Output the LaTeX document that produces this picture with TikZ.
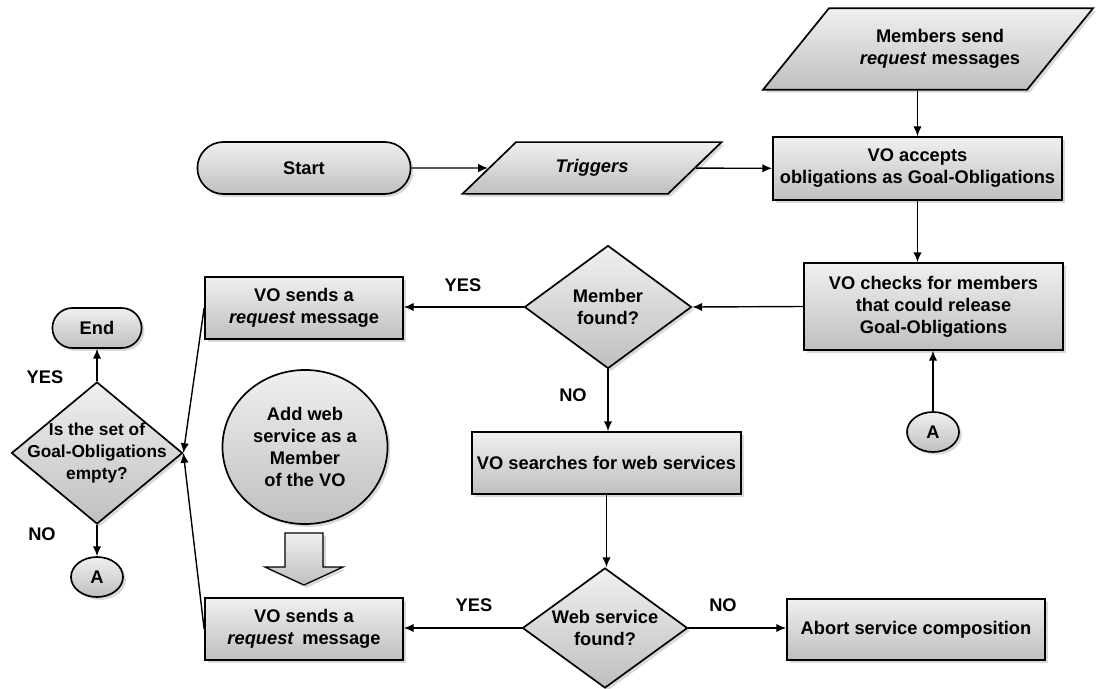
\documentclass[tikz,border=0pt]{standalone}
\usepackage{fontspec}
\setmainfont{Liberation Sans}
\usetikzlibrary{shapes.geometric,shapes.misc,shadows,arrows.meta}

\begin{document}
\begin{tikzpicture}[x=0.025cm,y=-0.025cm,
		font=\fontsize{13}{15.6}\selectfont\bfseries,
		shape base/.style={draw=black,line width=1.2pt,top color=gray!12,bottom color=gray!50,
			drop shadow={shadow xshift=2pt,shadow yshift=-2pt,opacity=0.3},align=center,inner sep=1pt},
		procbox/.style={shape base,rectangle},
		decision/.style={shape base,diamond},
		iobox/.style={shape base,trapezium,trapezium stretches body=true},
		terminal/.style={shape base,rounded rectangle},
		connector/.style={shape base,ellipse},
		flow/.style={line width=1pt,-{Latex[length=7pt,width=6pt]}}]
		\useasboundingbox (0,0) rectangle (1096,689);
		\node [iobox,trapezium left angle=51,trapezium right angle=129,minimum width=8.25cm,inner ysep=15.1pt] (members) at (928,49) {\hspace*{0.6cm}Members send\\\hspace*{0.6cm}\textit{request} messages};
		\node [terminal,minimum width=5.4cm,minimum height=1.3cm] (start) at (304,168) {Start};
		\node [iobox,trapezium left angle=44,trapezium right angle=136,minimum width=6.475cm,text height=9.4pt,text depth=2.8pt,inner ysep=12.3pt] (trig) at (592,168) {\textit{Triggers}};
		\node [procbox,minimum width=7.225cm,minimum height=1.575cm] (accept) at (917.5,168.5) {VO accepts\\obligations as Goal-Obligations};
		\node [procbox,minimum width=6.475cm,minimum height=2.175cm] (check) at (933.5,306.5) {VO checks for members\\that could release\\Goal-Obligations};
		\node [decision,minimum width=4.175cm,minimum height=3.075cm,label={[align=center]center:Member\\found?}] (memfound) at (608,307) {};
		\node [procbox,minimum width=4.95cm,minimum height=1.55cm] (sendA) at (304,308) {VO sends a\\\textit{request} message};
		\node [procbox,minimum width=6.725cm,minimum height=1.55cm] (search) at (606.5,463) {VO searches for web services};
		\node [decision,minimum width=4.125cm,minimum height=3cm,label={[align=center]center:Web service\\found?}] (wsfound) at (605,628) {};
		\node [procbox,minimum width=6.45cm,minimum height=1.525cm] (abort) at (916,629.5) {Abort service composition};
		\node [procbox,minimum width=4.95cm,minimum height=1.55cm] (sendB) at (304,629) {VO sends a\\\textit{request}\, message};
		\node [connector,minimum width=4.125cm,minimum height=3.85cm,label={[align=center]center:Add web\\service as a\\Member\\of the VO}] (addws) at (305,447) {};
		\node [decision,minimum width=4.275cm,minimum height=3.55cm,label={[align=center,font=\fontsize{12.3}{15.6}\selectfont\bfseries]center:Is the set of\\Goal-Obligations\\empty?}] (empty) at (97,453) {};
		\node [terminal,minimum width=2.3cm,minimum height=1cm] (final) at (97,328) {End};
		\node [connector,minimum width=1.3cm,minimum height=1cm] (linkA) at (97,577) {A};
		\node [connector,minimum width=1.3cm,minimum height=1cm] (linkB) at (933,432) {A};
		\draw [line width=0.9pt,top color=gray!12,bottom color=gray!50,drop shadow={shadow xshift=2pt,shadow yshift=-2pt,opacity=0.3}]
		(285,533) -- (323,533) -- (323,567) -- (343,567) -- (304,585) -- (265,567) -- (285,567) -- cycle;
		\draw [flow] (start) -- (trig);
		\draw [flow] (trig) -- (accept);
		\draw [flow] (accept.north |- members.south) -- (accept.north);
		\draw [flow] (accept.south) -- (accept.south |- check.north);
		\draw [flow] (check.west) -- (memfound.east);
		\draw [flow] (memfound.west) -- (memfound.west -| sendA.east);
		\draw [flow] (memfound.south) -- (memfound.south |- search.north);
		\draw [flow] (search.south) -- (search.south |- wsfound.north);
		\draw [flow] (wsfound.east) -- (wsfound.east -| abort.west);
		\draw [flow] (wsfound.west) -- (wsfound.west -| sendB.east);
		\draw [flow] (sendA.west) -- (empty.east);
		\draw [flow] (sendB.west) -- (empty.east);
		\draw [flow] (empty.north) -- (final.south);
		\draw [flow] (empty.south) -- (linkA.north);
		\draw [flow] (linkB.north) -- (linkB.north |- check.south);
		\node (yesA) at (463,285) {YES};
		\node (noA) at (573,395) {NO};
		\node (yesB) at (474,605) {YES};
		\node (noB) at (723,605) {NO};
		\node (yesC) at (45,377) {YES};
		\node (noC) at (42,534) {NO};
	\end{tikzpicture}
\end{document}
